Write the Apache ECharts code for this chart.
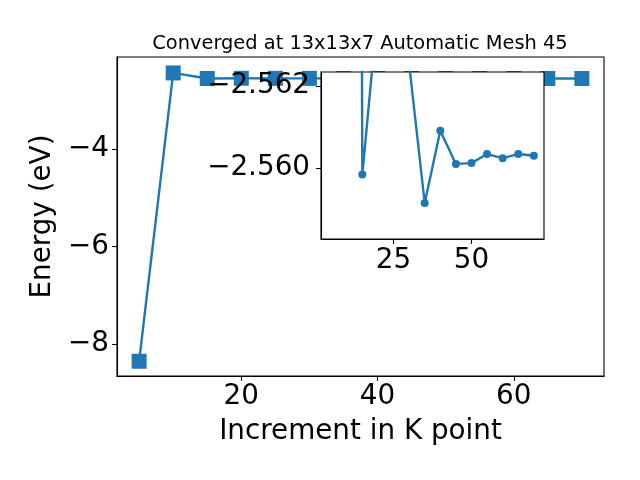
<!DOCTYPE html>
<html>
<head>
<meta charset="utf-8">
<script src="https://cdn.jsdelivr.net/npm/echarts@6/dist/echarts.min.js"></script>
<style>html,body{margin:0;padding:0;background:#fff}#c{width:640px;height:480px}</style>
</head>
<body>
<div id="c"></div>
<script>
const titleText = 'Converged at 13x13x7 Automatic Mesh 45';
const xAxisName = 'Increment in K point';
const yAxisName = 'Energy (eV)';
const kPoints = [5, 10, 15, 20, 25, 30, 35, 40, 45, 50, 55, 60, 65, 70];
const energies = [-8.348, -2.446, -2.56016, -2.55608, -2.5568, -2.55746, -2.56085, -2.55909, -2.5599, -2.55988, -2.55966, -2.55976, -2.55966, -2.5597];
// the inset is drawn from the second point onward
const insetStart = 1;
const mainXTicks = [20, 40, 60];
const mainYTicks = [-8, -6, -4];
const insetXTicks = [25, 50];
const insetYTickValues = [-2.558, -2.560];
const insetYTickLabels = ['\u22122.562', '\u22122.560'];

const FONT = 'DejaVu Sans';
const BLUE = '#1f77b4';
const pts = kPoints.map((k, i) => [k, energies[i]]);
const insetPts = pts.slice(insetStart);
const minusFmt = v => (v < 0 ? '\u2212' + Math.abs(v) : String(v));
const insetYFmt = v => {
  const i = insetYTickValues.findIndex(t => Math.abs(t - v) < 1e-9);
  return i >= 0 ? insetYTickLabels[i] : '';
};

const chart = echarts.init(document.getElementById('c'), null, {renderer: 'canvas'});
const lbl = {color: '#000', fontFamily: FONT, fontSize: 27.8};
chart.setOption({
  animation: false,
  backgroundColor: '#fff',
  title: {
    text: titleText, left: 355, top: 29, textAlign: 'center',
    textStyle: {fontFamily: FONT, fontSize: 19.4, fontWeight: 'normal', color: '#000'}
  },
  grid: [
    {left: 117, top: 57, width: 487, height: 319, show: true, borderColor: '#000', borderWidth: 1.1, backgroundColor: 'transparent', z: 0},
    {left: 321, top: 72, width: 223, height: 167, show: true, borderColor: '#000', borderWidth: 1.1, backgroundColor: '#fff', z: 3}
  ],
  xAxis: [
    {
      type: 'value', gridIndex: 0, min: 1.75, max: 73.25,
      name: xAxisName, nameLocation: 'middle', nameGap: 42,
      nameTextStyle: Object.assign({}, lbl),
      axisLine: {onZero: false, lineStyle: {color: '#000', width: 1.1}},
      axisTick: {customValues: mainXTicks, length: 4.9, lineStyle: {color: '#000', width: 1.1}},
      axisLabel: Object.assign({customValues: mainXTicks, margin: 7}, lbl),
      splitLine: {show: false}
    },
    {
      type: 'value', gridIndex: 1, min: 1.75, max: 73.25, z: 5,
      axisLine: {onZero: false, lineStyle: {color: '#000', width: 1.1}},
      axisTick: {customValues: insetXTicks, length: 4.9, lineStyle: {color: '#000', width: 1.1}},
      axisLabel: Object.assign({customValues: insetXTicks, margin: 8}, lbl),
      splitLine: {show: false}
    }
  ],
  yAxis: [
    {
      type: 'value', gridIndex: 0, min: -8.65, max: -2.12,
      name: yAxisName, nameLocation: 'middle', nameGap: 53, nameRotate: 90,
      nameTextStyle: Object.assign({}, lbl),
      axisLine: {onZero: false, lineStyle: {color: '#000', width: 1.1}},
      axisTick: {customValues: mainYTicks, length: 4.9, lineStyle: {color: '#000', width: 1.1}},
      axisLabel: Object.assign({customValues: mainYTicks, margin: 8, formatter: minusFmt}, lbl),
      splitLine: {show: false}
    },
    {
      type: 'value', gridIndex: 1, min: -2.56173, max: -2.55766, z: 5,
      axisLine: {onZero: false, lineStyle: {color: '#000', width: 1.1}},
      axisTick: {customValues: insetYTickValues, length: 4.9, lineStyle: {color: '#000', width: 1.1}},
      axisLabel: Object.assign({customValues: insetYTickValues, margin: 11, formatter: insetYFmt}, lbl),
      splitLine: {show: false}
    }
  ],
  series: [
    {
      type: 'line', xAxisIndex: 0, yAxisIndex: 0, data: pts, z: 2,
      symbol: 'rect', symbolSize: 15, showAllSymbol: true,
      lineStyle: {color: BLUE, width: 2.4}, itemStyle: {color: BLUE},
      emphasis: {disabled: true}
    },
    {
      type: 'line', xAxisIndex: 1, yAxisIndex: 1, data: insetPts, z: 4, clip: true,
      symbol: 'circle', symbolSize: 8, showAllSymbol: true,
      lineStyle: {color: BLUE, width: 2.4}, itemStyle: {color: BLUE},
      emphasis: {disabled: true}
    }
  ]
});
</script>
</body>
</html>
